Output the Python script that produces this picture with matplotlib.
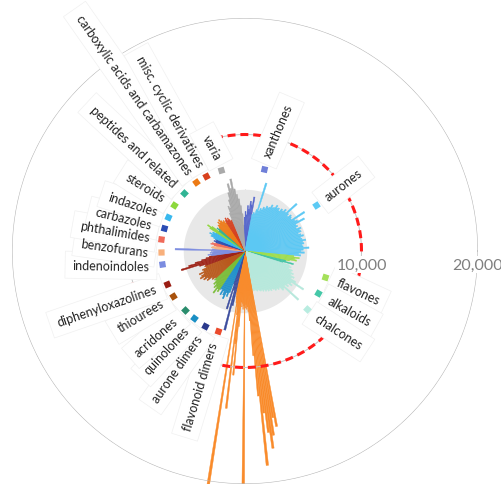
import numpy as np
import matplotlib.pyplot as plt

plt.rcParams['font.family'] = ['Lato', 'DejaVu Sans']

# compound activities per class, listed clockwise from the top
xanthones = [2200, 2900, 3400, 3100, 3900, 3600, 4300, 4000, 4700]
aurones = [3200, 3400, 3300, 3700, 6100, 3600, 3900, 3800, 4100, 4000, 4300, 4200,
           4300, 4600, 4400, 4500, 4800, 4600, 4700, 4500, 4800, 4700, 5000, 4800,
           6000, 4900, 4700, 5000, 4900, 4800, 6100, 5000, 5200, 5800, 4900, 5000,
           4800, 5200, 5000, 5100, 4800, 5000, 5200, 4900, 5000, 5300, 5000, 5100,
           4900, 5000, 5500, 5000, 4800, 5100, 4600, 4800]
flavones = [4200, 4700, 4300, 4500, 3900]
alkaloids = [3600, 4300, 3400]
chalcones = [4000, 4200, 4000, 4400, 4300, 4600, 4400, 4800, 4600, 5100, 6000, 4800,
             5000, 4600, 4800, 4500, 6200, 4600, 4700, 4300, 4400, 4200, 4300, 4100,
             4000, 4100, 3900, 4000, 3800, 3900, 3700, 3800, 3600, 3700, 3600, 3500,
             3600, 3500, 3400, 3500, 3400]
flavonoid_dimers = [15300, 14500, 16000, 17100, 15700, 14000, 18500, 12500, 9000,
                    6000, 5200, 4800, 5000, 4600, 4900, 21500, 4700, 5000, 4500,
                    4800, 4400, 6500, 10700, 8000, 13600, 5500, 4800, 21500, 4500,
                    4200, 3800, 3500]
aurone_dimers = [4800, 7000, 3500, 5200, 3000]
quinolones = [3800, 4200, 3900, 4500, 4200, 3900, 4300, 3800, 3900]
acridones = [4200, 4000, 4500, 3900, 4100, 3700, 3900, 3500, 3600]
thiourees = [3400, 3700, 3600, 4100, 3900, 4300, 4100, 4500, 4300, 4000, 4400, 3900,
             4000, 3600, 3700]
diphenyloxazolines = [3600, 4100, 5700, 5000, 4400, 3800, 3400, 3100]
indenoindoles = [2900, 3200, 2800, 3000, 2700, 2900, 6000, 2800]
benzofurans = [2600, 2900, 2800, 2500]
phthalimides = [2700, 3000, 2900, 2600]
carbazoles = [2600, 2800, 2600, 2700]
indazoles = [2900, 3200, 3100, 3400, 3100, 3200, 2900]
steroids = [3600, 3900, 3500]
peptides = [2800, 3100, 2900]
carboxylic = [3000, 3200, 3100, 3400, 3200, 3500, 3300, 3100, 3200, 2900]
misc_cyclic = [3100, 3300, 3000, 3200, 3000, 2800, 2900]
varia = [3500, 4100, 3900, 4600, 5200, 5950, 5500, 6300, 5400, 4900, 4500, 3900, 3200]

categories = ['xanthones', 'aurones', 'flavones', 'alkaloids', 'chalcones',
              'flavonoid dimers', 'aurone dimers', 'quinolones', 'acridones',
              'thiourees', 'diphenyloxazolines', 'indenoindoles', 'benzofurans',
              'phthalimides', 'carbazoles', 'indazoles', 'steroids',
              'peptides and related', 'carboxylic acids and carbamazones',
              'misc. cyclic derivatives', 'varia']
series = [xanthones, aurones, flavones, alkaloids, chalcones, flavonoid_dimers,
          aurone_dimers, quinolones, acridones, thiourees, diphenyloxazolines,
          indenoindoles, benzofurans, phthalimides, carbazoles, indazoles, steroids,
          peptides, carboxylic, misc_cyclic, varia]

bar_colors = ['#5566cc', '#5cc8f4', '#9edd4c', '#3fc4a4', '#b6e8dc', '#f98b2b',
              '#3b4c9e', '#1f90cc', '#79bd36', '#b9581a', '#9e2216', '#7d8de0',
              '#f7b27f', '#ef6b5a', '#2c4db2', '#38b6ee', '#8ed63a', '#2fb08f',
              '#ee7a16', '#d6401e', '#a9a9a9']
marker_colors = ['#6f7fd8', '#5ccaf4', '#a4e05a', '#45c8a8', '#b8ece0', '#ea4a2c',
                 '#2b3a8c', '#1a8fc4', '#2a8c6c', '#a8520c', '#9a1c12', '#7b8ce0',
                 '#f8b07c', '#f06a5a', '#2a4cb4', '#38b8ee', '#8cd83c', '#30b494',
                 '#ec7a14', '#d8401c', '#aaaaaa']
# angular room given to each class (degrees, scaled to a full turn)
sector_sizes = [13.5, 84, 7.5, 4.5, 61.5, 22.5, 7.5, 13.5, 13.5, 22.5, 12, 12, 6, 6,
                6, 10.5, 4.5, 4.5, 15, 10.5, 19.5]
# where each class label sits, and which way its text points (degrees)
label_angles = [77, 33, -18, -30, -43, -109, -118, -127, -135.5, -148, -157, -171,
                -179, 172, 164.5, 156, 147, 136.5, 125.5, 117.5, 106.5]
text_dirs = [67, 38, -25, -29, -33, -107, -125, -133, -139, -149, -161, 179,
             172, 170, 166, 162, 148, 137, 125, 119, 118]

fig = plt.figure(figsize=(5.02, 4.85), dpi=100)
ax = fig.add_axes([12 / 502, 0, 466 / 502, 466 / 485], projection='polar')
ax.set_ylim(0, 20000)
ax.axis('off')

# bars laid out clockwise from the top, each class filling its sector
scale = 360 / sum(sector_sizes)
edge = 93.0
vals, cols, thetas, widths = [], [], [], []
for s, c, size in zip(series, bar_colors, sector_sizes):
    span = size * scale
    step = span / len(s)
    for i, v in enumerate(s):
        thetas.append(edge - (i + 0.5) * step)
        widths.append(step * 0.9)
        vals.append(v)
        cols.append(c)
    edge -= span

t = np.linspace(0, 2 * np.pi, 721)
ax.fill_between(t, 0, 5300, color='#e8e8e8', lw=0, zorder=1)
ax.bar(np.deg2rad(thetas), vals, width=np.deg2rad(widths), color=cols,
       edgecolor=cols, lw=0.3, zorder=2, clip_on=False)

ax.plot(t, np.full_like(t, 10000), color='#c4c4c4', lw=0.7, zorder=3)
ax.plot(t, np.full_like(t, 20000), color='#b8b8b8', lw=0.8, zorder=3)
ax.plot(t, np.full_like(t, 10000), color='#ff1a1a', lw=2.2,
        ls=(0, (2.6, 1.6)), zorder=4)

for r, lab in [(10000, '10,000'), (20000, '20,000')]:
    ax.annotate(lab, xy=(0, r), xytext=(0, -10), textcoords='offset points',
                ha='center', va='center', fontsize=11.5, color='#7f7f7f', zorder=8,
                bbox=dict(boxstyle='square,pad=0.1', fc='white', ec='none'))

for name, a, d, mc in zip(categories, label_angles, text_dirs, marker_colors):
    th = np.deg2rad(a)
    ax.scatter(th, 7250, marker=(4, 0, a + 45), s=40, color=mc, lw=0, zorder=8)
    if -90 < a < 90:
        rot, ha = d, 'left'
    else:
        rot, ha = (d - 180 if d > 0 else d + 180), 'right'
    kw = dict(rotation=rot, rotation_mode='anchor', ha=ha, va='center', fontsize=9)
    # white label panels first, so they never hide a neighbouring label
    ax.text(th, 8300, name, color='none', zorder=5,
            bbox=dict(boxstyle='square,pad=0.6', fc='white', ec='#f0f0f0', lw=0.5),
            **kw)
    ax.text(th, 8300, name, color='#222222', zorder=6, **kw)

fig.savefig('out.png', dpi=100)
